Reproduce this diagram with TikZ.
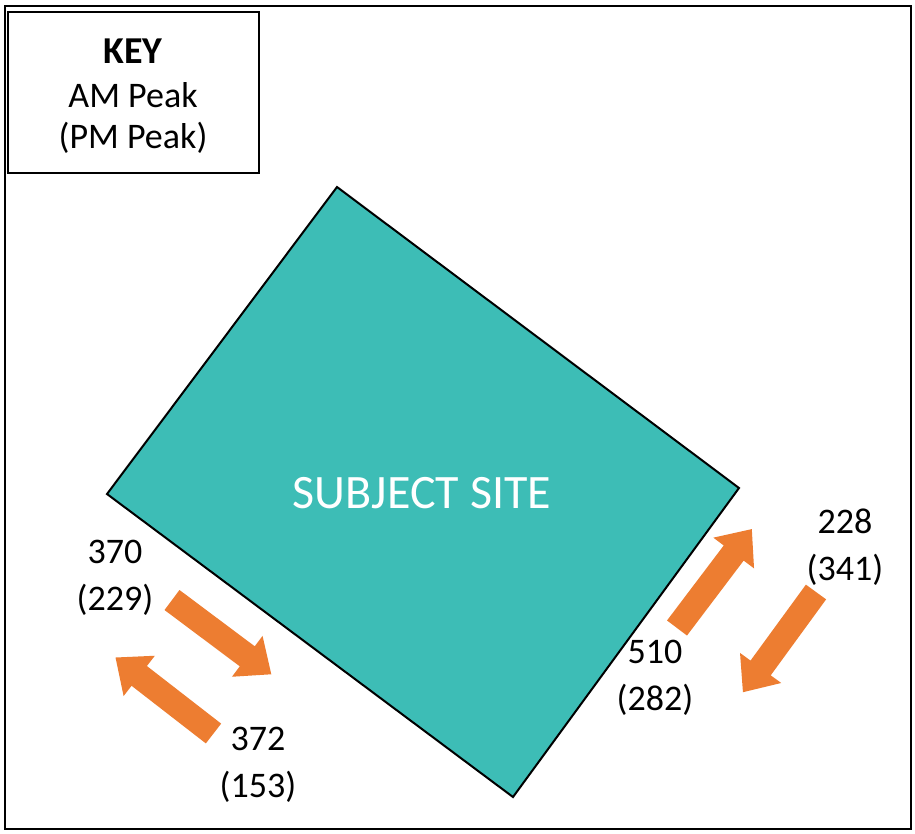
\documentclass[tikz,border=0pt]{standalone}
\usepackage{fontspec}
\setmainfont{Carlito}
\definecolor{siteteal}{HTML}{3DBDB6}
\definecolor{floworange}{HTML}{ED7D31}
\tikzset{
  frameline/.style={draw=black, line width=2pt},
  sitebox/.style={fill=siteteal, draw=black, line width=2pt, line join=miter},
  flowfill/.style={fill=floworange},
  numlabel/.style={font=\fontsize{36}{47}\selectfont, align=center, inner sep=0pt},
  keylabel/.style={font=\fontsize{36}{40}\selectfont, inner sep=0pt, anchor=base},
  sitelabel/.style={font=\fontsize{48}{54}\selectfont, text=white, inner sep=0pt, anchor=base}
}
\newcommand\flowarr[3]{%
  \fill[flowfill, shift={#1}, rotate=#2] (0,-12.5) -- (94,-12.5) -- (94,-25.5) -- (124,0) -- (94,25.5) -- (94,12.5) -- (0,12.5) -- cycle;
  \coordinate (#3) at #1;}
\begin{document}
\begin{tikzpicture}[x=1pt,y=-1pt]
\useasboundingbox (0,0) rectangle (915,833);
\fill[white] (0,0) rectangle (915,833);
% outer frame
\draw[frameline] (5,6) rectangle (911,829);
% key box
\draw[frameline] (8,12) rectangle (259,173);
\node[keylabel, font=\fontsize{38}{40}\selectfont\bfseries] (key) at (133,63) {KEY};
\node[keylabel] (am) at (133,107) {AM Peak};
\node[keylabel] (pm) at (133,148) {(PM Peak)};
% subject site
\coordinate (sN) at (337,187);
\coordinate (sE) at (739,488);
\coordinate (sS) at (513,797);
\coordinate (sW) at (107,494);
\draw[sitebox] (sN) -- (sE) -- (sS) -- (sW) -- cycle;
\node[sitelabel] (site) at (422,508) {SUBJECT SITE};
% flow arrows
\flowarr{(172,600)}{-36.8}{a1}
\flowarr{(213.5,733.5)}{142.2}{a2}
\flowarr{(677,628)}{52.9}{a3}
\flowarr{(816,592)}{-126.1}{a4}
% labels
\node[numlabel] (l370) at (115,578) {370\\(229)};
\node[numlabel] (l372) at (258,765) {372\\(153)};
\node[numlabel] (l510) at (655,678) {510\\(282)};
\node[numlabel] (l228) at (845,547) {228\\(341)};
\end{tikzpicture}
\end{document}
